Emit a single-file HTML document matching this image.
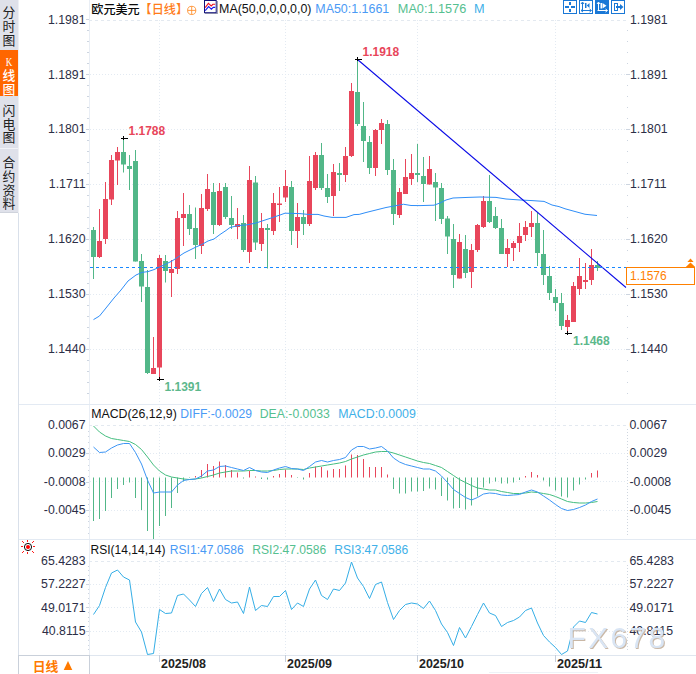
<!DOCTYPE html>
<html lang="en"><head><meta charset="utf-8"><title>EURUSD Daily</title>
<style>
html,body{margin:0;padding:0;background:#fff;}
body{width:696px;height:674px;overflow:hidden;font-family:"Liberation Sans",sans-serif;}
svg{display:block;font-family:"Liberation Sans",sans-serif;}
.ax{font-size:12.3px;fill:#2c2e46;}
.lg{font-size:12.3px;}
.cjk{font-family:"Liberation Sans","Noto Sans CJK SC",sans-serif;}
.grid{stroke:#e3eaf2;stroke-width:1;stroke-dasharray:1 2;fill:none;shape-rendering:crispEdges;}
.gridd{stroke:#e3e9f0;stroke-width:1;stroke-dasharray:3 3;fill:none;shape-rendering:crispEdges;}
.crisp{shape-rendering:crispEdges;}
</style></head><body>
<svg width="696" height="674" viewBox="0 0 696 674">
<rect width="696" height="674" fill="#fff"/>

<g class="crisp">
<rect x="0" y="0" width="18" height="213" fill="#dfe1ea"/>
<rect x="0" y="50" width="18" height="46" fill="#ff6600"/>
<rect x="0" y="148" width="18" height="1" fill="#f2f3f7"/>
<rect x="0" y="212" width="18" height="1" fill="#cfd3dc"/>
<rect x="18" y="213" width="1" height="461" fill="#d9e0ea"/>
<rect x="18" y="0" width="1" height="213" fill="#eef0f5"/>
</g>
<g fill="#222" class="cjk" font-size="12.8"><text x="2.6" y="17.4">分</text><text x="2.6" y="31.1">时</text><text x="2.6" y="44.8">图</text></g>
<text x="5.8" y="65.8" font-size="11.5" font-family="Liberation Serif" fill="#fff" textLength="6.6" lengthAdjust="spacingAndGlyphs">K</text>
<g fill="#fff" class="cjk" font-size="12.8" font-weight="500"><text x="2.6" y="79.8">线</text><text x="2.6" y="93.8">图</text></g>
<g fill="#222" class="cjk" font-size="12.8"><text x="2.6" y="115">闪</text><text x="2.6" y="128.7">电</text><text x="2.6" y="142.4">图</text></g>
<g fill="#222" class="cjk" font-size="12.8"><text x="2.6" y="167.3">合</text><text x="2.6" y="181">约</text><text x="2.6" y="194.7">资</text><text x="2.6" y="208.4">料</text></g>
<g class="crisp">
<rect x="89" y="0" width="1" height="655" fill="#e9eef5"/>
<rect x="19" y="404" width="677" height="1" fill="#e3eaf3"/>
<rect x="19" y="539" width="677" height="1" fill="#e3eaf3"/>
<rect x="19" y="655" width="677" height="1" fill="#dfe6ef"/>
<rect x="489" y="672" width="109" height="1" fill="#eef2f7"/>
</g>
<path class="gridd" d="M89 20.5H626"/>
<path class="grid" d="M90 74.5H626"/>
<path class="grid" d="M90 129.5H626"/>
<path class="grid" d="M90 184.5H626"/>
<path class="grid" d="M90 239.5H626"/>
<path class="grid" d="M90 294.5H626"/>
<path class="grid" d="M90 349.5H626"/>
<path class="gridd" d="M89 425.5H626"/>
<path class="grid" d="M90 453.5H626"/>
<path class="grid" d="M90 481.5H626"/>
<path class="grid" d="M90 510.5H626"/>
<path class="gridd" d="M89 561.5H626"/>
<path class="grid" d="M90 584.5H626"/>
<path class="grid" d="M90 607.5H626"/>
<path class="grid" d="M90 631.5H626"/>
<path class="grid" d="M159.5 20V655"/>
<path class="grid" d="M285.5 20V655"/>
<path class="grid" d="M417.5 20V655"/>
<path class="grid" d="M555.5 20V655"/>
<path class="grid" style="stroke:#cfd6df" d="M627.5 429V536"/>
<path class="grid" style="stroke:#cfd6df" d="M627.5 565V652"/>
<g class="crisp" fill="#cdd5e0"><rect x="86" y="19" width="3" height="1"/><rect x="87" y="30" width="2" height="1"/><rect x="627" y="30" width="1" height="1"/><rect x="87" y="41" width="2" height="1"/><rect x="627" y="41" width="1" height="1"/><rect x="87" y="52" width="2" height="1"/><rect x="627" y="52" width="1" height="1"/><rect x="87" y="63" width="2" height="1"/><rect x="627" y="63" width="1" height="1"/><rect x="86" y="74" width="3" height="1"/><rect x="626" y="74" width="4" height="1"/><rect x="87" y="85" width="2" height="1"/><rect x="627" y="85" width="1" height="1"/><rect x="87" y="96" width="2" height="1"/><rect x="627" y="96" width="1" height="1"/><rect x="87" y="107" width="2" height="1"/><rect x="627" y="107" width="1" height="1"/><rect x="87" y="118" width="2" height="1"/><rect x="627" y="118" width="1" height="1"/><rect x="86" y="129" width="3" height="1"/><rect x="626" y="129" width="4" height="1"/><rect x="87" y="140" width="2" height="1"/><rect x="627" y="140" width="1" height="1"/><rect x="87" y="151" width="2" height="1"/><rect x="627" y="151" width="1" height="1"/><rect x="87" y="162" width="2" height="1"/><rect x="627" y="162" width="1" height="1"/><rect x="87" y="173" width="2" height="1"/><rect x="627" y="173" width="1" height="1"/><rect x="86" y="184" width="3" height="1"/><rect x="626" y="184" width="4" height="1"/><rect x="87" y="195" width="2" height="1"/><rect x="627" y="195" width="1" height="1"/><rect x="87" y="206" width="2" height="1"/><rect x="627" y="206" width="1" height="1"/><rect x="87" y="217" width="2" height="1"/><rect x="627" y="217" width="1" height="1"/><rect x="87" y="228" width="2" height="1"/><rect x="627" y="228" width="1" height="1"/><rect x="86" y="239" width="3" height="1"/><rect x="626" y="239" width="4" height="1"/><rect x="87" y="250" width="2" height="1"/><rect x="627" y="250" width="1" height="1"/><rect x="87" y="261" width="2" height="1"/><rect x="627" y="261" width="1" height="1"/><rect x="87" y="272" width="2" height="1"/><rect x="627" y="272" width="1" height="1"/><rect x="87" y="283" width="2" height="1"/><rect x="627" y="283" width="1" height="1"/><rect x="86" y="294" width="3" height="1"/><rect x="626" y="294" width="4" height="1"/><rect x="87" y="305" width="2" height="1"/><rect x="627" y="305" width="1" height="1"/><rect x="87" y="316" width="2" height="1"/><rect x="627" y="316" width="1" height="1"/><rect x="87" y="327" width="2" height="1"/><rect x="627" y="327" width="1" height="1"/><rect x="87" y="338" width="2" height="1"/><rect x="627" y="338" width="1" height="1"/><rect x="86" y="349" width="3" height="1"/><rect x="626" y="349" width="4" height="1"/><rect x="87" y="360" width="2" height="1"/><rect x="627" y="360" width="1" height="1"/><rect x="87" y="371" width="2" height="1"/><rect x="627" y="371" width="1" height="1"/><rect x="87" y="382" width="2" height="1"/><rect x="627" y="382" width="1" height="1"/><rect x="87" y="393" width="2" height="1"/><rect x="627" y="393" width="1" height="1"/></g>
<g class="crisp" fill="#cdd5e0"><rect x="88" y="431" width="1" height="1"/><rect x="88" y="436" width="1" height="1"/><rect x="88" y="442" width="1" height="1"/><rect x="88" y="448" width="1" height="1"/><rect x="86" y="453" width="3" height="1"/><rect x="88" y="459" width="1" height="1"/><rect x="88" y="465" width="1" height="1"/><rect x="88" y="470" width="1" height="1"/><rect x="88" y="476" width="1" height="1"/><rect x="86" y="482" width="3" height="1"/><rect x="88" y="487" width="1" height="1"/><rect x="88" y="493" width="1" height="1"/><rect x="88" y="499" width="1" height="1"/><rect x="88" y="504" width="1" height="1"/><rect x="86" y="510" width="3" height="1"/><rect x="88" y="516" width="1" height="1"/><rect x="88" y="521" width="1" height="1"/><rect x="88" y="527" width="1" height="1"/><rect x="88" y="533" width="1" height="1"/><rect x="88" y="566" width="1" height="1"/><rect x="88" y="570" width="1" height="1"/><rect x="88" y="575" width="1" height="1"/><rect x="88" y="580" width="1" height="1"/><rect x="86" y="584" width="3" height="1"/><rect x="88" y="589" width="1" height="1"/><rect x="88" y="593" width="1" height="1"/><rect x="88" y="598" width="1" height="1"/><rect x="88" y="603" width="1" height="1"/><rect x="86" y="607" width="3" height="1"/><rect x="88" y="612" width="1" height="1"/><rect x="88" y="617" width="1" height="1"/><rect x="88" y="621" width="1" height="1"/><rect x="88" y="626" width="1" height="1"/><rect x="86" y="631" width="3" height="1"/><rect x="88" y="635" width="1" height="1"/><rect x="88" y="640" width="1" height="1"/><rect x="88" y="645" width="1" height="1"/><rect x="88" y="649" width="1" height="1"/></g>
<g fill="#E8465B"><rect x="99" y="209" width="1" height="49.0"/><rect x="97" y="241" width="5" height="16.0"/><rect x="105" y="182" width="1" height="62.0"/><rect x="103" y="199" width="5" height="40.0"/><rect x="111" y="155" width="1" height="50.0"/><rect x="109" y="160" width="5" height="39.5"/><rect x="117" y="147" width="1" height="38.0"/><rect x="115" y="152" width="5" height="8.5"/><rect x="153" y="337" width="1" height="37.0"/><rect x="151" y="368" width="5" height="6.0"/><rect x="159" y="255" width="1" height="124.5"/><rect x="157" y="258" width="5" height="109.5"/><rect x="171" y="260" width="1" height="37.0"/><rect x="169" y="269" width="5" height="4.0"/><rect x="177" y="211" width="1" height="63.0"/><rect x="175" y="218" width="5" height="51.0"/><rect x="183" y="193" width="1" height="53.0"/><rect x="181" y="214" width="5" height="4.0"/><rect x="201" y="194" width="1" height="60.0"/><rect x="199" y="208" width="5" height="38.0"/><rect x="207" y="174" width="1" height="37.0"/><rect x="205" y="189" width="5" height="20.0"/><rect x="219" y="183" width="1" height="43.0"/><rect x="217" y="191" width="5" height="34.0"/><rect x="237" y="208" width="1" height="31.0"/><rect x="235" y="224" width="5" height="3.0"/><rect x="249" y="166" width="1" height="97.0"/><rect x="247" y="180" width="5" height="72.0"/><rect x="261" y="213" width="1" height="38.0"/><rect x="259" y="228" width="5" height="16.0"/><rect x="273" y="193" width="1" height="42.0"/><rect x="271" y="203" width="5" height="28.0"/><rect x="279" y="187" width="1" height="35.0"/><rect x="277" y="203.5" width="5" height="1.5"/><rect x="285" y="170" width="1" height="32.0"/><rect x="283" y="186" width="5" height="11.5"/><rect x="297" y="203" width="1" height="45.0"/><rect x="295" y="217" width="5" height="14.0"/><rect x="309" y="156" width="1" height="70.0"/><rect x="307" y="181" width="5" height="43.0"/><rect x="315" y="152" width="1" height="38.0"/><rect x="313" y="155" width="5" height="33.0"/><rect x="333" y="164" width="1" height="52.0"/><rect x="331" y="172" width="5" height="24.0"/><rect x="345" y="147" width="1" height="35.0"/><rect x="343" y="156" width="5" height="19.0"/><rect x="351" y="83" width="1" height="74.0"/><rect x="349" y="91" width="5" height="65.0"/><rect x="375" y="129" width="1" height="47.0"/><rect x="373" y="130" width="5" height="38.0"/><rect x="381" y="119" width="1" height="25.0"/><rect x="379" y="123" width="5" height="7.0"/><rect x="399" y="188" width="1" height="30.0"/><rect x="397" y="192" width="5" height="23.0"/><rect x="405" y="159" width="1" height="35.0"/><rect x="403" y="177" width="5" height="17.0"/><rect x="411" y="154" width="1" height="31.0"/><rect x="409" y="173" width="5" height="6.0"/><rect x="429" y="156" width="1" height="28.5"/><rect x="427" y="169" width="5" height="15.5"/><rect x="459" y="234" width="1" height="44.5"/><rect x="457" y="242" width="5" height="36.5"/><rect x="471" y="244" width="1" height="44.0"/><rect x="469" y="250" width="5" height="22.0"/><rect x="477" y="224" width="1" height="28.0"/><rect x="475" y="225" width="5" height="25.0"/><rect x="483" y="196" width="1" height="32.0"/><rect x="481" y="201" width="5" height="26.0"/><rect x="507" y="239" width="1" height="28.0"/><rect x="505" y="248" width="5" height="6.0"/><rect x="513" y="241" width="1" height="20.0"/><rect x="511" y="243" width="5" height="5.0"/><rect x="519" y="223" width="1" height="29.0"/><rect x="517" y="236" width="5" height="7.0"/><rect x="525" y="221" width="1" height="20.0"/><rect x="523" y="227" width="5" height="8.0"/><rect x="531" y="211" width="1" height="26.0"/><rect x="529" y="223" width="5" height="4.0"/><rect x="567" y="315" width="1" height="18.5"/><rect x="565" y="320" width="5" height="7.0"/><rect x="573" y="282" width="1" height="40.0"/><rect x="571" y="286" width="5" height="36.0"/><rect x="579" y="258" width="1" height="37.0"/><rect x="577" y="276" width="5" height="13.0"/><rect x="585" y="263" width="1" height="26.0"/><rect x="583" y="280" width="5" height="2.0"/><rect x="591" y="249" width="1" height="36.0"/><rect x="589" y="265" width="5" height="15.0"/></g>
<g fill="#52B788"><rect x="93" y="227" width="1" height="52.0"/><rect x="91" y="230" width="5" height="27.0"/><rect x="123" y="138.5" width="1" height="34.0"/><rect x="121" y="152" width="5" height="12.5"/><rect x="129" y="155" width="1" height="35.0"/><rect x="127" y="166" width="5" height="3.0"/><rect x="135" y="150" width="1" height="111.5"/><rect x="133" y="161" width="5" height="100.5"/><rect x="141" y="254" width="1" height="48.0"/><rect x="139" y="261" width="5" height="25.5"/><rect x="147" y="270" width="1" height="104.0"/><rect x="145" y="287" width="5" height="86.0"/><rect x="165" y="255" width="1" height="27.5"/><rect x="163" y="261" width="5" height="10.0"/><rect x="189" y="205" width="1" height="30.0"/><rect x="187" y="214" width="5" height="15.0"/><rect x="195" y="207.5" width="1" height="51.5"/><rect x="193" y="228" width="5" height="17.0"/><rect x="213" y="183" width="1" height="51.0"/><rect x="211" y="192" width="5" height="33.0"/><rect x="225" y="183" width="1" height="36.0"/><rect x="223" y="187" width="5" height="30.0"/><rect x="231" y="196" width="1" height="33.0"/><rect x="229" y="218" width="5" height="7.0"/><rect x="243" y="215" width="1" height="37.0"/><rect x="241" y="223" width="5" height="27.0"/><rect x="255" y="176" width="1" height="74.0"/><rect x="253" y="182.5" width="5" height="60.0"/><rect x="267" y="224" width="1" height="44.5"/><rect x="265" y="228" width="5" height="2.0"/><rect x="291" y="181" width="1" height="64.0"/><rect x="289" y="187" width="5" height="44.0"/><rect x="303" y="210" width="1" height="25.0"/><rect x="301" y="217" width="5" height="7.0"/><rect x="321" y="143" width="1" height="47.0"/><rect x="319" y="155" width="5" height="33.0"/><rect x="327" y="174" width="1" height="29.0"/><rect x="325" y="188" width="5" height="9.0"/><rect x="339" y="163" width="1" height="28.0"/><rect x="337" y="173" width="5" height="2.0"/><rect x="357" y="59.5" width="1" height="66.5"/><rect x="355" y="92" width="5" height="32.0"/><rect x="363" y="102" width="1" height="60.0"/><rect x="361" y="126" width="5" height="15.0"/><rect x="369" y="136" width="1" height="38.0"/><rect x="367" y="142" width="5" height="26.0"/><rect x="387" y="120" width="1" height="55.0"/><rect x="385" y="124" width="5" height="46.0"/><rect x="393" y="159" width="1" height="66.0"/><rect x="391" y="170" width="5" height="44.0"/><rect x="417" y="144" width="1" height="38.0"/><rect x="415" y="173" width="5" height="2.0"/><rect x="423" y="157" width="1" height="45.0"/><rect x="421" y="176" width="5" height="8.0"/><rect x="435" y="173" width="1" height="48.0"/><rect x="433" y="182" width="5" height="5.5"/><rect x="441" y="183" width="1" height="41.0"/><rect x="439" y="188" width="5" height="31.0"/><rect x="447" y="216" width="1" height="38.0"/><rect x="445" y="218.5" width="5" height="18.0"/><rect x="453" y="224" width="1" height="64.0"/><rect x="451" y="239" width="5" height="36.0"/><rect x="465" y="235" width="1" height="43.0"/><rect x="463" y="249" width="5" height="24.0"/><rect x="489" y="175" width="1" height="48.0"/><rect x="487" y="201" width="5" height="21.0"/><rect x="495" y="207" width="1" height="22.0"/><rect x="493" y="216" width="5" height="12.0"/><rect x="501" y="219" width="1" height="35.0"/><rect x="499" y="228" width="5" height="26.0"/><rect x="537" y="213" width="1" height="53.0"/><rect x="535" y="223" width="5" height="30.0"/><rect x="543" y="230" width="1" height="55.0"/><rect x="541" y="254" width="5" height="21.0"/><rect x="549" y="266" width="1" height="34.0"/><rect x="547" y="276" width="5" height="17.0"/><rect x="555" y="289" width="1" height="22.0"/><rect x="553" y="297" width="5" height="6.0"/><rect x="561" y="293" width="1" height="37.0"/><rect x="559" y="303" width="5" height="23.0"/><rect x="597" y="261" width="1" height="10.0"/><rect x="595" y="265" width="5" height="3.0"/></g>
<polyline fill="none" stroke="#2f8ef8" stroke-width="1" stroke-linejoin="round" points="93.5,319.6 99.5,316 106,308 114,298 121,290 128,281 136,275 142,272.4 148,271.6 154,269.6 159.5,267 166,264 172,261 178,257 184,253 190,250 196,247 202,244.4 208,241 214,239 220,234.5 226,230.5 230,227.5 238,225.6 246,225 256,223 270,218.4 280,215 285,213.2 300,213.6 308,214.4 318,214.4 324,216 332,217.4 346,217.4 354,214.6 359.2,214.4 366,212.5 386,207.5 403.5,204.25 411,205.5 420,205.6 434,205.2 440,203 446,200 453,198 468,197.4 480,197 496,197.4 506,199 520,200 532,200.6 544,201.4 552,205 559,206.6 565,208.75 575,211.5 585,214.25 597,215.5"/>
<path d="M357.5 59.5L626 287.5" stroke="#0808e6" stroke-width="1.05" fill="none"/>
<path d="M90 267.5H626" stroke="#1888ff" stroke-width="1" stroke-dasharray="3 3" fill="none" class="crisp"/>
<g fill="#000" class="crisp"><rect x="121" y="138" width="7" height="1"/><rect x="123" y="136" width="1" height="4"/></g>
<g fill="#000" class="crisp"><rect x="355" y="59" width="7" height="1"/><rect x="357" y="57" width="1" height="4"/></g>
<g fill="#000" class="crisp"><rect x="157" y="379" width="7" height="1"/><rect x="159" y="377" width="1" height="4"/></g>
<g fill="#000" class="crisp"><rect x="565" y="333" width="7" height="1"/><rect x="567" y="331" width="1" height="4"/></g>
<text x="128.5" y="135" font-size="12" font-weight="bold" fill="#e8465b">1.1788</text>
<text x="362.5" y="56" font-size="12" font-weight="bold" fill="#e8465b">1.1918</text>
<text x="164.5" y="391" font-size="12" font-weight="bold" fill="#5cb88c">1.1391</text>
<text x="573" y="345" font-size="12" font-weight="bold" fill="#5cb88c">1.1468</text>
<text class="ax" x="85.5" y="23.8" text-anchor="end">1.1981</text>
<text class="ax" x="630" y="23.8">1.1981</text>
<text class="ax" x="85.5" y="78.8" text-anchor="end">1.1891</text>
<text class="ax" x="630" y="78.8">1.1891</text>
<text class="ax" x="85.5" y="133.3" text-anchor="end">1.1801</text>
<text class="ax" x="630" y="133.3">1.1801</text>
<text class="ax" x="85.5" y="188.3" text-anchor="end">1.1711</text>
<text class="ax" x="630" y="188.3">1.1711</text>
<text class="ax" x="85.5" y="243.3" text-anchor="end">1.1620</text>
<text class="ax" x="630" y="243.3">1.1620</text>
<text class="ax" x="85.5" y="298.3" text-anchor="end">1.1530</text>
<text class="ax" x="630" y="298.3">1.1530</text>
<text class="ax" x="85.5" y="353.3" text-anchor="end">1.1440</text>
<text class="ax" x="630" y="353.3">1.1440</text>
<text class="ax" x="85.5" y="429.0" text-anchor="end">0.0067</text>
<text class="ax" x="629.5" y="429.0">0.0067</text>
<text class="ax" x="85.5" y="457.1" text-anchor="end">0.0029</text>
<text class="ax" x="629.5" y="457.1">0.0029</text>
<text class="ax" x="85.5" y="485.8" text-anchor="end">-0.0008</text>
<text class="ax" x="629.5" y="485.8">-0.0008</text>
<text class="ax" x="85.5" y="514.1" text-anchor="end">-0.0045</text>
<text class="ax" x="629.5" y="514.1">-0.0045</text>
<text class="ax" x="85.5" y="564.9" text-anchor="end">65.4283</text>
<text class="ax" x="629.5" y="564.9">65.4283</text>
<text class="ax" x="85.5" y="588.3" text-anchor="end">57.2227</text>
<text class="ax" x="629.5" y="588.3">57.2227</text>
<text class="ax" x="85.5" y="611.5999999999999" text-anchor="end">49.0171</text>
<text class="ax" x="629.5" y="611.5999999999999">49.0171</text>
<text class="ax" x="85.5" y="635.0999999999999" text-anchor="end">40.8115</text>
<text class="ax" x="629.5" y="635.0999999999999">40.8115</text>
<rect x="626.5" y="267.5" width="68" height="17" fill="#fff" stroke="#ff8000" stroke-width="1"/>
<text x="630" y="280" font-size="12" fill="#ff8000">1.1576</text>
<path d="M690.5 258.6L693.6 262H687.4ZM690.5 262.6L695.2 267H685.8Z" fill="#ff8000"/>
<g fill="#E8465B"><rect x="195" y="476" width="1" height="1.5"/><rect x="201" y="470" width="1" height="7.5"/><rect x="207" y="464" width="1" height="13.5"/><rect x="213" y="466" width="1" height="11.5"/><rect x="219" y="461.5" width="1" height="16.0"/><rect x="225" y="465" width="1" height="12.5"/><rect x="231" y="470" width="1" height="7.5"/><rect x="237" y="472.5" width="1" height="5.0"/><rect x="249" y="471" width="1" height="6.5"/><rect x="255" y="476.5" width="1" height="1.0"/><rect x="273" y="476" width="1" height="1.5"/><rect x="279" y="474" width="1" height="3.5"/><rect x="285" y="469.5" width="1" height="8.0"/><rect x="291" y="475" width="1" height="2.5"/><rect x="309" y="473" width="1" height="4.5"/><rect x="315" y="466.5" width="1" height="11.0"/><rect x="321" y="467" width="1" height="10.5"/><rect x="327" y="470.5" width="1" height="7.0"/><rect x="333" y="469" width="1" height="8.5"/><rect x="339" y="469" width="1" height="8.5"/><rect x="345" y="465.5" width="1" height="12.0"/><rect x="351" y="454.5" width="1" height="23.0"/><rect x="357" y="455" width="1" height="22.5"/><rect x="363" y="459" width="1" height="18.5"/><rect x="369" y="467" width="1" height="10.5"/><rect x="375" y="467" width="1" height="10.5"/><rect x="381" y="467" width="1" height="10.5"/><rect x="387" y="474.5" width="1" height="3.0"/><rect x="525" y="476" width="1" height="1.5"/><rect x="531" y="472" width="1" height="5.5"/><rect x="537" y="475" width="1" height="2.5"/><rect x="591" y="473" width="1" height="4.5"/><rect x="597" y="470.5" width="1" height="7.0"/></g>
<g fill="#52B788"><rect x="93" y="477.5" width="1" height="43.5"/><rect x="99" y="477.5" width="1" height="41.5"/><rect x="105" y="477.5" width="1" height="33.5"/><rect x="111" y="477.5" width="1" height="20.5"/><rect x="117" y="477.5" width="1" height="11.5"/><rect x="123" y="477.5" width="1" height="7.5"/><rect x="129" y="477.5" width="1" height="5.0"/><rect x="135" y="477.5" width="1" height="20.5"/><rect x="141" y="477.5" width="1" height="32.5"/><rect x="147" y="477.5" width="1" height="53.5"/><rect x="153" y="477.5" width="1" height="61.5"/><rect x="159" y="477.5" width="1" height="48.5"/><rect x="165" y="477.5" width="1" height="38.5"/><rect x="171" y="477.5" width="1" height="30.5"/><rect x="177" y="477.5" width="1" height="15.5"/><rect x="183" y="477.5" width="1" height="4.0"/><rect x="189" y="477.5" width="1" height="0.5"/><rect x="243" y="477.5" width="1" height="1.0"/><rect x="261" y="477.5" width="1" height="1.5"/><rect x="267" y="477.5" width="1" height="2.0"/><rect x="297" y="477.5" width="1" height="0.5"/><rect x="303" y="477.5" width="1" height="2.0"/><rect x="393" y="477.5" width="1" height="11.5"/><rect x="399" y="477.5" width="1" height="16.0"/><rect x="405" y="477.5" width="1" height="16.0"/><rect x="411" y="477.5" width="1" height="14.0"/><rect x="417" y="477.5" width="1" height="14.0"/><rect x="423" y="477.5" width="1" height="13.5"/><rect x="429" y="477.5" width="1" height="11.0"/><rect x="435" y="477.5" width="1" height="12.0"/><rect x="441" y="477.5" width="1" height="18.5"/><rect x="447" y="477.5" width="1" height="23.0"/><rect x="453" y="477.5" width="1" height="31.0"/><rect x="459" y="477.5" width="1" height="30.5"/><rect x="465" y="477.5" width="1" height="32.0"/><rect x="471" y="477.5" width="1" height="28.0"/><rect x="477" y="477.5" width="1" height="19.0"/><rect x="483" y="477.5" width="1" height="10.0"/><rect x="489" y="477.5" width="1" height="6.0"/><rect x="495" y="477.5" width="1" height="4.0"/><rect x="501" y="477.5" width="1" height="6.0"/><rect x="507" y="477.5" width="1" height="6.0"/><rect x="513" y="477.5" width="1" height="5.0"/><rect x="519" y="477.5" width="1" height="2.5"/><rect x="543" y="477.5" width="1" height="3.0"/><rect x="549" y="477.5" width="1" height="9.0"/><rect x="555" y="477.5" width="1" height="13.0"/><rect x="561" y="477.5" width="1" height="19.0"/><rect x="567" y="477.5" width="1" height="20.0"/><rect x="573" y="477.5" width="1" height="13.0"/><rect x="579" y="477.5" width="1" height="7.0"/><rect x="585" y="477.5" width="1" height="2.0"/></g>
<polyline fill="none" stroke="#45be80" stroke-width="1" stroke-linejoin="round" points="93.5,426 99.5,432 105.5,436 111.5,438.5 117.5,439.5 123.5,440.5 129.5,441.5 135.5,444.5 141.5,449.5 147.5,457 153.5,465 159.5,471 165.5,475 171.5,477 177.5,478 183.5,479 189.5,479.5 195.5,479 201.5,478 207.5,476.5 213.5,475 219.5,473 225.5,472 231.5,471 237.5,471 243.5,471 249.5,470.5 255.5,470.5 261.5,471 267.5,471 273.5,470.5 279.5,469.5 285.5,469 291.5,469 297.5,469 303.5,469.5 309.5,468 315.5,467 321.5,466 327.5,465 333.5,464 339.5,463 345.5,461.5 351.5,459 357.5,457 363.5,455 369.5,453.5 375.5,452 381.5,451.5 387.5,451.5 393.5,453 399.5,455 405.5,457 411.5,459 417.5,461 423.5,462.5 429.5,463.5 435.5,465.5 441.5,467.5 447.5,471.5 453.5,475.5 459.5,479.5 465.5,482.5 471.5,485.5 477.5,488 483.5,489 489.5,490 495.5,490 501.5,491.5 507.5,492.5 513.5,493.5 519.5,493.5 525.5,493 531.5,492 537.5,492.5 543.5,493.5 549.5,494.5 555.5,496.5 561.5,499 567.5,501.5 573.5,502.5 579.5,503 585.5,503 591.5,502.5 597.5,501.5"/>
<polyline fill="none" stroke="#3d96f5" stroke-width="1" stroke-linejoin="round" points="93.5,447 99.5,452.5 105.5,452 111.5,448 117.5,445 123.5,443.5 129.5,443.5 135.5,452.5 141.5,464 147.5,480 153.5,493 159.5,492 165.5,492 171.5,492 177.5,485 183.5,480.5 189.5,479.5 195.5,479 201.5,476 207.5,471 213.5,470 219.5,466.5 225.5,466 231.5,467.5 237.5,469 243.5,470.5 249.5,467.5 255.5,470.5 261.5,472 267.5,472.5 273.5,470 279.5,468 285.5,466.5 291.5,468.5 297.5,469 303.5,470.5 309.5,466.5 315.5,462 321.5,460.5 327.5,462 333.5,460.5 339.5,459.5 345.5,457.5 351.5,450 357.5,446.5 363.5,446.5 369.5,449 375.5,448 381.5,446.5 387.5,451 393.5,458 399.5,462 405.5,464.5 411.5,466 417.5,467.5 423.5,469 429.5,469 435.5,471 441.5,476 447.5,482.5 453.5,489.5 459.5,493.5 465.5,497.5 471.5,500 477.5,497.5 483.5,494 489.5,493 495.5,493.5 501.5,495 507.5,495.5 513.5,495 519.5,494.5 525.5,492 531.5,490 537.5,492 543.5,496 549.5,500 555.5,504.5 561.5,508.5 567.5,510.5 573.5,509.5 579.5,507.5 585.5,505 591.5,501.5 597.5,499"/>
<polyline fill="none" stroke="#35aee6" stroke-width="1" stroke-linejoin="round" points="93.5,614.5 99.5,605.5 105.5,587.5 111.5,573 117.5,570 123.5,577 129.5,580 135.5,622 141.5,632 147.5,654.5 153.5,653.5 159.5,609.5 165.5,613.5 171.5,613 177.5,595.5 183.5,594 189.5,600 195.5,606.5 201.5,593.5 207.5,587.5 213.5,601.5 219.5,589 225.5,599.5 231.5,603 237.5,602 243.5,613.5 249.5,587 255.5,610.5 261.5,605.5 267.5,606.5 273.5,596.5 279.5,596.5 285.5,590.5 291.5,609.5 297.5,603 303.5,606.5 309.5,589 315.5,580 321.5,595.5 327.5,599.5 333.5,589 339.5,590.5 345.5,583 351.5,562 357.5,578 363.5,586.5 369.5,598.5 375.5,584.5 381.5,582 387.5,602.5 393.5,619.5 399.5,610.5 405.5,604.5 411.5,603 417.5,604 423.5,608.5 429.5,601 435.5,610.5 441.5,624 447.5,632.5 453.5,645.5 459.5,627.5 465.5,638 471.5,626.5 477.5,614.5 483.5,603 489.5,613 495.5,615.5 501.5,626.5 507.5,622.5 513.5,620.5 519.5,617 525.5,610.5 531.5,608 537.5,623 543.5,635.5 549.5,642 555.5,647.5 561.5,654.5 567.5,651 573.5,627 579.5,621 585.5,622.5 591.5,612.5 597.5,614"/>
<text class="lg" x="219.1" y="13" fill="#111" textLength="92.4" lengthAdjust="spacingAndGlyphs">MA(50,0,0,0,0,0)</text>
<text class="lg" x="315.3" y="13" fill="#4a9af5" textLength="74" lengthAdjust="spacingAndGlyphs">MA50:1.1661</text>
<text class="lg" x="397.8" y="13" fill="#55c090" textLength="68.5" lengthAdjust="spacingAndGlyphs">MA0:1.1576</text>
<text class="lg" x="474" y="13" fill="#40b0e8" textLength="10.6" lengthAdjust="spacingAndGlyphs">M</text>
<text class="lg" x="91.2" y="418" fill="#111" textLength="85.6" lengthAdjust="spacingAndGlyphs">MACD(26,12,9)</text>
<text class="lg" x="180.3" y="418" fill="#4a9af5" textLength="71.7" lengthAdjust="spacingAndGlyphs">DIFF:-0.0029</text>
<text class="lg" x="259.8" y="418" fill="#55c090" textLength="70" lengthAdjust="spacingAndGlyphs">DEA:-0.0033</text>
<text class="lg" x="338.3" y="418" fill="#40b0e8" textLength="77.5" lengthAdjust="spacingAndGlyphs">MACD:0.0009</text>
<text class="lg" x="90.6" y="554" fill="#111" textLength="74.8" lengthAdjust="spacingAndGlyphs">RSI(14,14,14)</text>
<text class="lg" x="169.8" y="554" fill="#4a9af5" textLength="74" lengthAdjust="spacingAndGlyphs">RSI1:47.0586</text>
<text class="lg" x="252.3" y="554" fill="#55c090" textLength="74" lengthAdjust="spacingAndGlyphs">RSI2:47.0586</text>
<text class="lg" x="334.3" y="554" fill="#40b0e8" textLength="74" lengthAdjust="spacingAndGlyphs">RSI3:47.0586</text>
<text class="cjk" x="91.3" y="14" font-size="12.1" font-weight="500" fill="#0a0a0a">欧元美元</text>
<text class="cjk" x="139.6" y="14" font-size="12.1" font-weight="500" fill="#ff7c1a">【日线】</text>
<g stroke="#ff8a24" stroke-width="0.85" fill="none"><circle cx="191.7" cy="10.4" r="4.1"/><path d="M187.6 10.4H195.8M191.7 6.3V14.5"/></g>
<g><rect x="217" y="1" width="1" height="13" fill="#a4a4b4"/><rect x="205" y="13" width="13" height="1" fill="#a4a4b4"/><rect x="204.5" y="0.5" width="11.7" height="12.2" fill="#fff" stroke="#12127a" stroke-width="1"/><polyline points="205.2,7.6 208.4,3.4 211.2,6 212.9,4.3 215.2,4.3" fill="none" stroke="#f01020" stroke-width="1.1"/><polyline points="205.2,10.7 208.6,6.6 211.4,9.2 213.2,7.4 215.2,7.4" fill="none" stroke="#1818f0" stroke-width="1.1"/></g>
<g class="crisp"><rect x="563.5" y="0.5" width="13" height="13" fill="#fff" stroke="#1a78d6"/><rect x="565" y="6" width="4" height="2" fill="#1a78d6"/><rect x="571" y="6" width="4" height="2" fill="#1a78d6"/><rect x="569" y="2" width="2" height="3" fill="#1a78d6"/><rect x="569" y="9" width="2" height="3" fill="#1a78d6"/></g>
<g><rect x="579.5" y="0.5" width="13" height="13" fill="#fff" stroke="#1a78d6" class="crisp"/><path d="M582.5 2.5V11M581 4L582.5 2L584 4M581.5 10.5H591M589.5 9L591.5 10.5L589.5 12M583 9L581 10.5L583 12" stroke="#1a78d6" fill="none" stroke-width="1"/><rect x="585" y="3" width="1.5" height="5" fill="#1a78d6"/><path d="M589.5 3V8L586.8 5.5Z" fill="#1a78d6"/></g>
<g><rect x="595" y="0" width="14" height="14" fill="#1a78d6" class="crisp"/><path d="M598.5 2.5V11M597 4L598.5 2L600 4M597.5 10.5H607M605.5 9L607.5 10.5L605.5 12" stroke="#fff" fill="none" stroke-width="1"/><rect x="600.5" y="3" width="1.5" height="5.5" fill="#fff"/><path d="M602.5 3V8.5L606.5 5.8Z" fill="#fff"/></g>
<g><rect x="611.5" y="0.5" width="13" height="13" fill="#fff" stroke="#1a78d6" class="crisp"/><rect x="614.5" y="3.5" width="3" height="7" fill="none" stroke="#1a78d6" stroke-width="1" class="crisp"/><path d="M616 7H621" stroke="#1a78d6" stroke-width="2" fill="none"/><path d="M620 4L623.5 7L620 10Z" fill="#1a78d6"/></g>
<g><g fill="#ff1a1a" class="crisp"><rect x="27" y="540" width="1" height="2"/><rect x="27" y="552" width="1" height="2"/><rect x="21" y="546" width="2" height="1"/><rect x="33" y="546" width="2" height="1"/><rect x="22" y="541" width="1" height="1"/><rect x="23" y="542" width="1" height="1"/><rect x="33" y="541" width="1" height="1"/><rect x="32" y="542" width="1" height="1"/><rect x="23" y="551" width="1" height="1"/><rect x="22" y="552" width="1" height="1"/><rect x="32" y="551" width="1" height="1"/><rect x="33" y="552" width="1" height="1"/></g><circle cx="28" cy="547" r="3.6" fill="#fff" stroke="#000" stroke-width="0.95"/><circle cx="28" cy="547" r="2" fill="#ff0000"/></g>
<g class="crisp" fill="#c9d0da"><rect x="89" y="655" width="1" height="19"/><rect x="18" y="655" width="1" height="19"/><rect x="18" y="655" width="72" height="1"/></g>
<text class="cjk" x="32.8" y="671.2" font-size="12.8" font-weight="bold" fill="#ff7a00">日线</text>
<path d="M68 661L72.3 670H63.7Z" fill="#ff7a00"/>
<rect x="159" y="655" width="1" height="7" fill="#c5cedb" class="crisp"/>
<text x="161" y="667.8" font-size="12" font-weight="bold" fill="#222" textLength="45" lengthAdjust="spacingAndGlyphs">2025/08</text>
<rect x="285" y="655" width="1" height="7" fill="#c5cedb" class="crisp"/>
<text x="287" y="667.8" font-size="12" font-weight="bold" fill="#222" textLength="45" lengthAdjust="spacingAndGlyphs">2025/09</text>
<rect x="417" y="655" width="1" height="7" fill="#c5cedb" class="crisp"/>
<text x="419" y="667.8" font-size="12" font-weight="bold" fill="#222" textLength="45" lengthAdjust="spacingAndGlyphs">2025/10</text>
<rect x="555" y="655" width="1" height="7" fill="#c5cedb" class="crisp"/>
<text x="557" y="667.8" font-size="12" font-weight="bold" fill="#222" textLength="45" lengthAdjust="spacingAndGlyphs">2025/11</text>
<text x="567.5" y="648.2" font-size="30" letter-spacing="2.3" fill="#d9e5f4" style="filter:drop-shadow(1.2px 1.2px 0.5px rgba(165,135,105,0.6))">FX678</text>
</svg></body></html>
